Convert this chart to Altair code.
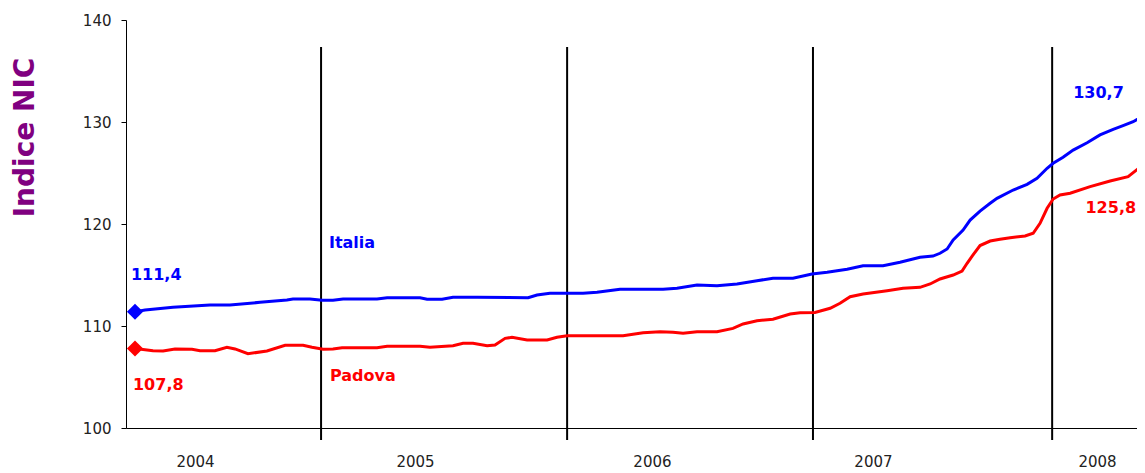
import altair as alt
import pandas as pd

italia_m = [0, 0.50, 1.88, 3.71, 4.70, 6.19, 7.52, 7.82, 8.66, 9.26, 9.80, 10.30, 11.98, 12.48,
            14.11, 14.46, 15.20, 15.74, 16.93, 19.46, 19.90, 20.54, 22.18, 22.87, 24.01, 26.14,
            26.83, 27.82, 28.81, 29.80, 30.79, 31.58, 32.57, 33.51, 34.26, 35.25, 36.04, 37.03,
            37.87, 38.86, 39.50, 39.85, 40.20, 40.50, 40.99, 41.34, 41.83, 42.33, 42.67, 43.47,
            44.16, 44.65, 45.15, 45.45, 45.94, 46.44, 47.13, 47.77, 48.42, 48.91, 49.41, 50.0]
italia_v = [111.4, 111.57, 111.83, 112.06, 112.06, 112.32, 112.55, 112.65, 112.65, 112.52, 112.52,
            112.65, 112.65, 112.77, 112.77, 112.62, 112.62, 112.81, 112.81, 112.77, 113.04, 113.21,
            113.21, 113.30, 113.60, 113.60, 113.70, 114.02, 113.95, 114.12, 114.44, 114.68, 114.68,
            115.10, 115.26, 115.56, 115.91, 115.91, 116.25, 116.74, 116.86, 117.13, 117.55, 118.43,
            119.41, 120.39, 121.27, 122.03, 122.52, 123.33, 123.89, 124.48, 125.46, 125.95, 126.54,
            127.25, 127.97, 128.73, 129.28, 129.64, 130.03, 130.7]

padova_m = [0, 0.89, 1.39, 1.98, 2.82, 3.22, 3.96, 4.55, 4.95, 5.59, 6.53, 7.43, 8.32, 8.76, 9.31,
            9.80, 10.25, 11.98, 12.48, 14.11, 14.60, 15.74, 16.24, 16.73, 17.43, 17.82, 18.32,
            18.66, 19.41, 20.40, 20.89, 21.39, 24.16, 25.15, 25.99, 26.63, 27.13, 27.82, 28.81,
            29.60, 30.10, 30.79, 31.58, 32.43, 32.92, 33.66, 34.41, 34.90, 35.40, 36.04, 37.23,
            38.02, 38.86, 39.36, 39.85, 40.50, 40.94, 41.19, 41.44, 41.83, 42.33, 42.82, 43.32,
            44.06, 44.46, 44.80, 45.15, 45.45, 45.79, 46.29, 47.28, 48.27, 49.16, 49.75, 50.0]
padova_v = [107.8, 107.58, 107.55, 107.75, 107.72, 107.58, 107.58, 107.91, 107.75, 107.28, 107.55,
            108.11, 108.11, 107.91, 107.72, 107.75, 107.87, 107.87, 108.01, 108.01, 107.91, 108.07,
            108.30, 108.30, 108.07, 108.14, 108.79, 108.89, 108.63, 108.63, 108.89, 109.05, 109.05,
            109.34, 109.44, 109.38, 109.28, 109.44, 109.44, 109.77, 110.20, 110.52, 110.66, 111.18,
            111.30, 111.32, 111.74, 112.23, 112.87, 113.14, 113.46, 113.70, 113.79, 114.12, 114.61,
            115.0, 115.39, 116.15, 116.86, 117.89, 118.33, 118.50, 118.66, 118.82, 119.09, 120.07,
            121.54, 122.45, 122.84, 123.01, 123.66, 124.22, 124.64, 125.56, 125.8]

year_labels = ["2004", "2005", "2006", "2007", "2008"]
year_label_pos = [2.97, 13.86, 25.59, 36.53, 47.62]
year_bounds = [9.21, 21.39, 33.56, 45.40]
rule_top = 137.35
rule_bottom = 98.82

ann_text = ["111,4", "107,8", "Italia", "Padova", "130,7", "125,8"]
ann_m = [-0.2, -0.1, 9.6, 9.65, 46.44, 47.05]
ann_v = [115.0, 104.2, 118.14, 105.1, 132.8, 121.6]
ann_serie = ["Italia", "Padova", "Italia", "Padova", "Italia", "Padova"]

series = ["Italia", "Padova"]
colors = ["#0000FF", "#FF0000"]

# ---- tables ----
lines = pd.concat([
    pd.DataFrame({"m": italia_m, "v": italia_v, "serie": "Italia"}),
    pd.DataFrame({"m": padova_m, "v": padova_v, "serie": "Padova"}),
])
ends = pd.concat([
    pd.DataFrame({"m": [italia_m[0], italia_m[-1]], "v": [italia_v[0], italia_v[-1]], "serie": "Italia"}),
    pd.DataFrame({"m": [padova_m[0], padova_m[-1]], "v": [padova_v[0], padova_v[-1]], "serie": "Padova"}),
])
ann = pd.DataFrame({"t": ann_text, "m": ann_m, "v": ann_v, "serie": ann_serie})
bounds = pd.DataFrame({"m": year_bounds})

label_expr = "''"
for pos, lab in reversed(list(zip(year_label_pos, year_labels))):
    label_expr = f"datum.value <= {pos + 0.01} ? '{lab}' : " + label_expr

FONT = "DejaVu Sans"

xscale = alt.Scale(domain=[-0.446, 49.60], nice=False, zero=False)
yscale = alt.Scale(domain=[100, 140], nice=False, zero=False)
cscale = alt.Scale(domain=series, range=colors)

x_enc = alt.X("m:Q", scale=xscale, axis=alt.Axis(
    values=year_label_pos, labelExpr=label_expr, ticks=False, grid=False,
    domainColor="black", domainWidth=1, labelPadding=26, labelFontSize=15,
    labelColor="#222222", labelFont=FONT, title=None))
y_enc = alt.Y("v:Q", scale=yscale, axis=alt.Axis(
    values=[100, 110, 120, 130, 140], grid=False, domainColor="black", tickColor="black",
    tickSize=5, labelPadding=10, labelFontSize=15, labelColor="#222222", labelFont=FONT,
    title="Indice NIC", titleColor="#800080", titleFontSize=28, titleFontWeight="bold",
    titleFont=FONT, titleAngle=270, titleX=-93, titleY=117, titleAlign="center",
    titleBaseline="alphabetic"))

line_layer = alt.Chart(lines).mark_line(strokeWidth=3).encode(
    x=x_enc, y=y_enc,
    color=alt.Color("serie:N", scale=cscale, legend=None),
    order="m:Q",
)

point_layer = alt.Chart(ends).mark_point(shape="diamond", filled=True, size=260, opacity=1).encode(
    x="m:Q", y="v:Q",
    color=alt.Color("serie:N", scale=cscale, legend=None),
)

rule_layer = alt.Chart(bounds).mark_rule(color="black", strokeWidth=2).encode(
    x="m:Q", y=alt.datum(rule_top), y2=alt.datum(rule_bottom),
)

text_layer = alt.Chart(ann).mark_text(align="left", baseline="middle", fontWeight="bold",
                                      fontSize=16, font=FONT).encode(
    x="m:Q", y="v:Q", text="t:N",
    color=alt.Color("serie:N", scale=cscale, legend=None),
)

chart = alt.layer(rule_layer, line_layer, point_layer, text_layer).properties(
    width=1011, height=408,
    autosize=alt.AutoSizeParams(type="none"),
    padding={"left": 118, "top": 12, "right": 0, "bottom": 45},
    background="white",
).configure_view(stroke=None)

chart.save("out.html", embed_options={"renderer": "svg", "actions": False})
